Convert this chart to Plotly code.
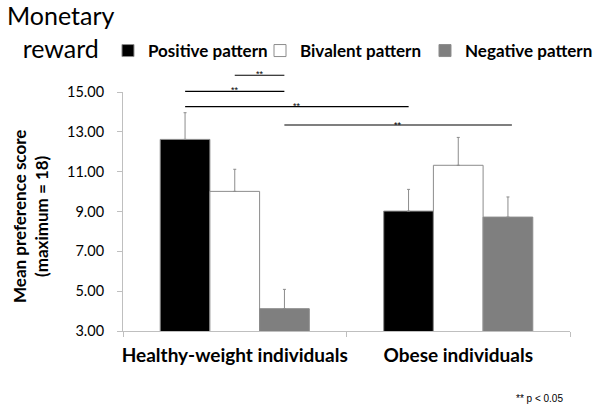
import plotly.graph_objects as go

groups = ["Healthy-weight individuals", "Obese individuals"]
series_names = ["Positive pattern", "Bivalent pattern", "Negative pattern"]
positive = [12.62, 9.02]
bivalent = [10.01, 11.32]
negative = [4.12, 8.72]
positive_err = [1.34, 1.09]
bivalent_err = [1.11, 1.40]
negative_err = [0.97, 1.01]
y_ticks = [3, 5, 7, 9, 11, 13, 15]

FONT = "Lato"
colors = ["#000000", "#ffffff", "#7f7f7f"]
values = [positive, bivalent, negative]
errors = [positive_err, bivalent_err, negative_err]
legend_ids = ["legend", "legend2", "legend3"]

fig = go.Figure()
for name, vals, errs, col, lg in zip(series_names, values, errors, colors, legend_ids):
    fig.add_trace(go.Bar(
        x=groups, y=vals, name=name, legend=lg, showlegend=True,
        marker=dict(color=col, line=dict(color="#8c8c8c", width=1)),
        error_y=dict(type="data", array=errs, arrayminus=[0] * len(errs),
                     symmetric=False, color="#8c8c8c", thickness=1, width=1.5),
    ))

legend_common = dict(orientation="h", yanchor="middle", xanchor="left",
                     bgcolor="rgba(0,0,0,0)",
                     font=dict(family=FONT, size=17, color="#000000", weight="bold"))
fig.update_layout(
    showlegend=True,
    legend=dict(x=-0.0336, y=1.1715, **legend_common),
    legend2=dict(x=0.3065, y=1.1715, **legend_common),
    legend3=dict(x=0.6756, y=1.1715, **legend_common),
)

fig.update_layout(
    width=604, height=414,
    margin=dict(l=123, r=34, t=92, b=83, autoexpand=False),
    paper_bgcolor="white", plot_bgcolor="white",
    barmode="group", bargap=0.333, bargroupgap=0,
    font=dict(family=FONT, color="#000000"),
    xaxis=dict(range=[-0.5, 1.5], showline=True, linecolor="#bfbfbf", linewidth=1,
               ticks="outside", tickson="boundaries", ticklen=5, tickcolor="#bfbfbf",
               showgrid=False, zeroline=False, automargin=False, tickangle=0,
               ticklabelstandoff=7,
               tickfont=dict(family=FONT, size=19, color="#000000", weight="bold")),
    yaxis=dict(range=[3, 15], tickvals=y_ticks, tickformat=".2f",
               showline=True, linecolor="#bfbfbf", linewidth=1,
               ticks="outside", ticklen=5, tickcolor="#bfbfbf", ticklabelstandoff=10,
               showgrid=False, zeroline=False, automargin=False,
               tickfont=dict(family=FONT, size=14.5, color="#000000")),
)

# significance brackets (x in data coordinates at bar centres, y above the plot)
sig = [
    (0.0, 0.222, 1.070, 1.105),
    (-0.222, 0.222, 1.003, 1.036),
    (-0.222, 0.778, 0.9385, 0.969),
    (0.222, 1.24, 0.862, 0.892),
]
for x0, x1, yl, ys in sig:
    fig.add_shape(type="line", xref="x", yref="paper", x0=x0, x1=x1, y0=yl, y1=yl,
                  line=dict(color="#000000", width=1.2))
    fig.add_annotation(xref="x", yref="paper", x=(x0 + x1) / 2, y=ys, text="**",
                       showarrow=False, font=dict(family="Liberation Sans", size=9, color="#000000"))

fig.add_annotation(xref="paper", yref="paper", x=(61 - 123) / 447, y=(331 - 31.5) / 239,
                   text="Monetary<br>reward", showarrow=False, align="center",
                   xanchor="center", yanchor="middle",
                   font=dict(family=FONT, size=25, color="#000000"))
fig.add_annotation(xref="paper", yref="paper", x=(30 - 123) / 447, y=(331 - 217) / 239,
                   text="Mean preference score<br>(maximum = 18)", showarrow=False,
                   textangle=-90, xanchor="center", yanchor="middle", align="center",
                   font=dict(family=FONT, size=17, color="#000000", weight="bold"))
fig.add_annotation(xref="paper", yref="paper", x=(539 - 123) / 447, y=(331 - 398) / 239,
                   text="** p < 0.05", showarrow=False, xanchor="center", yanchor="middle",
                   font=dict(family="Liberation Sans", size=10, color="#000000"))

fig.write_html("out.html", config={"displayModeBar": False},
               post_script="document.body.style.margin='0';")
